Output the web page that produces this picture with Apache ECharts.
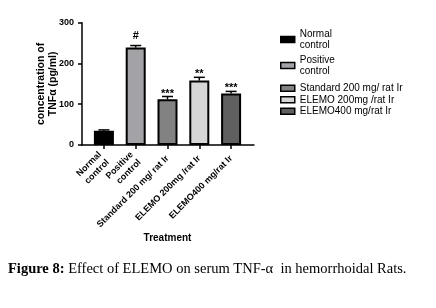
<!DOCTYPE html>
<html>
<head>
<meta charset="utf-8">
<script src="https://cdn.jsdelivr.net/npm/echarts@6/dist/echarts.min.js"></script>
<style>
html,body{margin:0;padding:0;background:#fff;}
#chart{width:436px;height:308px;}
</style>
</head>
<body>
<div id="chart"></div>
<script>
var categories = ['Normal\ncontrol', 'Positive\ncontrol', 'Standard 200 mg/ rat Ir', 'ELEMO 200mg /rat Ir', 'ELEMO400 mg/rat Ir'];
var means = [35, 239, 112, 158, 126.5];
var errors = [2, 5, 7, 8, 5];
var marks = ['', '#', '***', '**', '***'];
var colors = ['#000000', '#a3a3a7', '#828282', '#d6d6d6', '#606060'];
var yTicks = [0, 100, 200, 300];

var FONT = '"Liberation Sans", Arial, sans-serif';
var SERIF = '"Liberation Serif", "Times New Roman", serif';
var chart = echarts.init(document.getElementById('chart'), null, {renderer: 'canvas'});

var barSeries = categories.map(function (name, k) {
  return {
    name: name,
    type: 'bar',
    xAxisIndex: 0,
    yAxisIndex: 0,
    barWidth: 20,
    barGap: '-100%',
    itemStyle: {color: colors[k], borderColor: '#000', borderWidth: 2},
    data: means.map(function (v, i) { return i === k ? v : '-'; }),
    z: 2
  };
});

var errSeries = {
  type: 'custom',
  xAxisIndex: 0,
  yAxisIndex: 0,
  z: 3,
  encode: {x: 0, y: 1},
  data: means.map(function (v, i) { return [i, v, errors[i]]; }),
  renderItem: function (params, api) {
    var i = api.value(0);
    var mean = api.value(1), err = api.value(2);
    var base = api.coord([i, mean]);
    var top = api.coord([i, mean + err]);
    var half = 5.5;
    var children = [
      {type: 'line', shape: {x1: base[0], y1: base[1], x2: top[0], y2: top[1]}, style: {stroke: '#000', lineWidth: 1.5}},
      {type: 'line', shape: {x1: top[0] - half, y1: top[1], x2: top[0] + half, y2: top[1]}, style: {stroke: '#000', lineWidth: 1.5}}
    ];
    var m = marks[params.dataIndex];
    if (m) {
      children.push({type: 'text', style: {text: m, x: top[0], y: top[1] - (m === '#' ? 10 : 3), align: 'center', verticalAlign: 'middle', font: 'bold 11px ' + FONT, fill: '#000'}});
    }
    return {type: 'group', children: children};
  }
};

var option = {
  backgroundColor: '#fff',
  animation: false,
  textStyle: {fontFamily: FONT},
  title: {
    left: 8, top: 262, padding: 0,
    text: '{b|Figure 8:} Effect of ELEMO on serum TNF-α  in hemorrhoidal Rats.',
    textStyle: {
      fontFamily: SERIF, fontSize: 14.5, fontWeight: 'normal', color: '#000',
      rich: {b: {fontFamily: SERIF, fontSize: 14.5, fontWeight: 'bold', color: '#000'}}
    }
  },
  legend: [{
    data: categories.slice(0, 2),
    orient: 'vertical', left: 280, top: 28, padding: 0,
    itemWidth: 14, itemHeight: 6, itemGap: 3,
    icon: 'rect',
    itemStyle: {borderColor: '#000', borderWidth: 1.5},
    textStyle: {fontFamily: FONT, fontSize: 10, lineHeight: 11.5, color: '#000'}
  }, {
    data: categories.slice(2),
    orient: 'vertical', left: 280, top: 82.5, padding: 0,
    itemWidth: 14, itemHeight: 6, itemGap: 0,
    icon: 'rect',
    itemStyle: {borderColor: '#000', borderWidth: 1.5},
    textStyle: {fontFamily: FONT, fontSize: 10, lineHeight: 11.5, color: '#000'}
  }],
  grid: [
    {left: 88, top: 22.7, width: 159, height: 122.3, containLabel: false},
    {left: 82, top: 22.7, width: 172, height: 122.3, containLabel: false}
  ],
  xAxis: [{
    type: 'category', gridIndex: 0, data: categories,
    axisLine: {show: false},
    axisTick: {show: true, alignWithLabel: true, length: 4, lineStyle: {color: '#000', width: 1.5}},
    axisLabel: {rotate: 45, margin: 12, fontFamily: FONT, fontSize: 9, fontWeight: 'bold', color: '#000', interval: 0, lineHeight: 11},
    name: 'Treatment', nameLocation: 'middle', nameGap: 88, nameMoveOverlap: false,
    nameTextStyle: {fontFamily: FONT, fontSize: 10, fontWeight: 'bold', color: '#000'}
  }, {
    type: 'value', gridIndex: 1, min: 0, max: 1,
    axisLine: {show: true, lineStyle: {color: '#000', width: 1.5}},
    axisTick: {show: false}, axisLabel: {show: false}, splitLine: {show: false}
  }],
  yAxis: [{
    type: 'value', gridIndex: 0, min: yTicks[0], max: yTicks[yTicks.length - 1], interval: 100,
    offset: 6,
    axisLine: {show: true, lineStyle: {color: '#000', width: 1.5}},
    axisTick: {show: true, length: 4, lineStyle: {color: '#000', width: 1.5}},
    axisLabel: {margin: 8, fontFamily: FONT, fontSize: 9, fontWeight: 'bold', color: '#000'},
    splitLine: {show: false},
    name: 'concentration of\nTNFα (pg/ml)', nameLocation: 'middle', nameGap: 23, nameRotate: 90, nameMoveOverlap: false,
    nameTextStyle: {fontFamily: FONT, fontSize: 10.5, fontWeight: 'bold', color: '#000', lineHeight: 12}
  }, {
    type: 'value', gridIndex: 1, min: 0, max: 1, show: false
  }],
  series: barSeries.concat([errSeries])
};
chart.setOption(option);
</script>
</body>
</html>
